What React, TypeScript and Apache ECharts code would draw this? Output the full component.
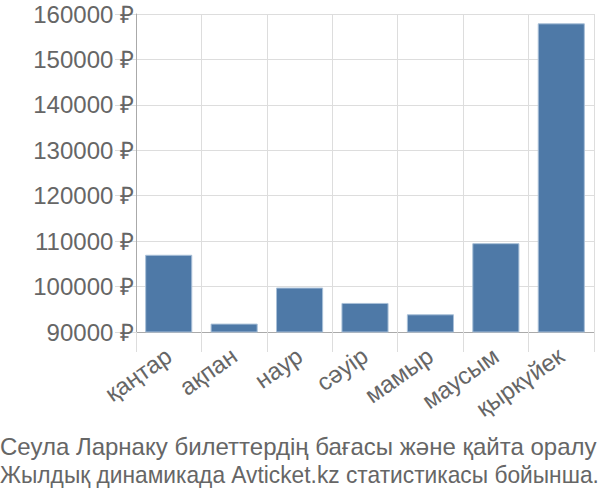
import React, { useEffect, useRef } from "react";
import * as echarts from "echarts";

const categories = ["қаңтар", "ақпан", "наур", "сәуір", "мамыр", "маусым", "қыркүйек"];
const prices = [107000, 91850, 99780, 96400, 93900, 109550, 157950];
const yMin = 90000;
const yMax = 160000;
const yStep = 10000;
const titleLines = [
  "Сеула Ларнаку билеттердің бағасы және қайта оралу",
  "Жылдық динамикада Avticket.kz статистикасы бойынша.",
];

const FONT_FAMILY = "'Liberation Sans', Arial, sans-serif";

function measure(text: string, size: number): number {
  const c = document.createElement("canvas").getContext("2d");
  if (!c) return 0;
  c.font = `${size}px ${FONT_FAMILY}`;
  return c.measureText(text).width;
}

export default function App() {
  const ref = useRef<HTMLDivElement>(null);
  useEffect(() => {
    if (!ref.current) return;
    const chart = echarts.init(ref.current, null, { renderer: "svg" });
    const titleSize = 24;
    const maxW = 599;
    const titleGraphics = titleLines.map((line, i) => {
      const w = measure(line, titleSize);
      const s = w > maxW ? maxW / w : 1;
      return {
        type: "text",
        x: 0,
        y: 446.5 + i * 28.7,
        scaleX: s,
        style: {
          text: line,
          fill: "#666",
          fontSize: titleSize,
          fontFamily: FONT_FAMILY,
          textAlign: "left",
          textVerticalAlign: "middle",
          verticalAlign: "middle",
        },
      };
    });
    chart.setOption({
      animation: false,
      graphic: titleGraphics,
      grid: { left: 136, right: 6, top: 14, bottom: 168 },
      xAxis: {
        type: "category",
        data: categories,
        axisLine: { lineStyle: { color: "#aaa", width: 1 } },
        axisTick: { show: true, length: 20, interval: 0, lineStyle: { color: "#ddd" } },
        splitLine: { show: true, interval: 0, lineStyle: { color: "#ddd" } },
        axisLabel: {
          rotate: 35,
          interval: 0,
          margin: 21,
          color: "#666",
          fontSize: 24,
          fontFamily: FONT_FAMILY,
        },
      },
      yAxis: {
        type: "value",
        min: yMin,
        max: yMax,
        interval: yStep,
        axisLine: { show: true, lineStyle: { color: "#aaa" } },
        axisTick: { show: true, length: 21, lineStyle: { color: "#ddd" } },
        splitLine: { show: true, lineStyle: { color: "#ddd" } },
        axisLabel: {
          color: "#666",
          fontSize: 24,
          fontFamily: FONT_FAMILY,
          margin: 2,
          formatter: (v: number) => `${v} ₽`,
        },
      },
      series: [
        {
          type: "bar",
          data: prices,
          barCategoryGap: "28%",
          itemStyle: { color: "#4e79a7", borderColor: "#a9c0d8", borderWidth: 1 },
        },
      ],
    });
    return () => chart.dispose();
  }, []);
  return (
    <div
      ref={ref}
      style={{ position: "absolute", left: 0, top: 0, width: 600, height: 500 }}
    />
  );
}
